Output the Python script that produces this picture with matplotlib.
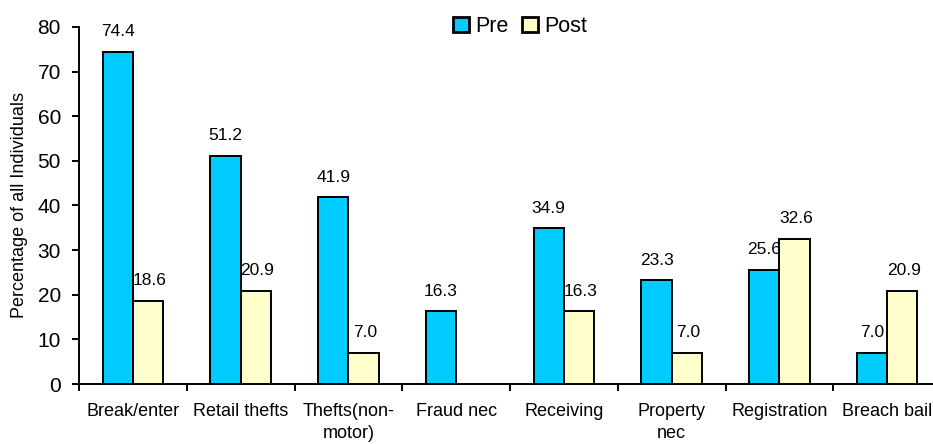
import matplotlib
matplotlib.use("Agg")
import matplotlib.pyplot as plt
from matplotlib import font_manager
import numpy as np

categories = ["Break/enter", "Retail thefts", "Thefts(non-\nmotor)", "Fraud nec",
              "Receiving", "Property\nnec", "Registration", "Breach bail"]
pre = [74.4, 51.2, 41.9, 16.3, 34.9, 23.3, 25.6, 7.0]
post = [18.6, 20.9, 7.0, np.nan, 16.3, 7.0, 32.6, 20.9]
yticks = [0, 10, 20, 30, 40, 50, 60, 70, 80]

plt.rcParams['font.family'] = ['Liberation Sans', 'DejaVu Sans']

names = {f.name for f in font_manager.fontManager.ttflist}
if 'Liberation Sans Narrow' in names:
    leg_family, leg_size = ['Liberation Sans Narrow', 'Liberation Sans'], 17.5
else:
    leg_family, leg_size = ['Liberation Sans', 'DejaVu Sans'], 15.5

fig = plt.figure(figsize=(9.33, 4.44), dpi=100)
ax = fig.add_axes([79/933, 60/444, (941-79)/933, 357/444])

x = np.arange(len(categories))
w = 0.28
ax.bar(x - w/2, pre, w, color='#00CCFF', edgecolor='black', linewidth=1.4, label='Pre', zorder=3)
ax.bar(x + w/2, post, w, color='#FFFFCC', edgecolor='black', linewidth=1.4, label='Post', zorder=3)

for xi, v in zip(x, pre):
    ax.annotate(f"{v:.1f}", (xi - w/2, v), xytext=(0, 9), textcoords='offset points',
                ha='center', va='bottom', fontsize=12.5)
for xi, v in zip(x, post):
    if not np.isnan(v):
        ax.annotate(f"{v:.1f}", (xi + w/2, v), xytext=(1, 9), textcoords='offset points',
                    ha='center', va='bottom', fontsize=12.5)

ax.set_xlim(-0.5, len(categories) - 0.5)
ax.set_ylim(0, 80)
ax.set_yticks(yticks)
ax.tick_params(axis='y', labelsize=15, length=5, width=1.4, direction='out', pad=8)

ax.set_xticks(np.arange(len(categories)) - 0.5)
ax.set_xticklabels([])
ax.tick_params(axis='x', which='major', length=5, width=1.4, direction='out')
ax.set_xticks(x, minor=True)
ax.set_xticklabels(categories, minor=True, fontsize=13)
ax.tick_params(axis='x', which='minor', length=0, pad=14)
for lbl in ax.get_xticklabels(minor=True):
    lbl.set_linespacing(1.35)

for s in ['top', 'right']:
    ax.spines[s].set_visible(False)
ax.spines['left'].set_linewidth(1.4)
ax.spines['bottom'].set_linewidth(1.4)

fig.text(20/933, 1 - 205/444, "Percentage of all Individuals", rotation=90,
         ha='center', va='center', fontsize=13)

leg = ax.legend(loc='center', bbox_to_anchor=(520/933, 1 - 26.5/444), bbox_transform=fig.transFigure,
                ncol=2, frameon=False, handlelength=0.75, handleheight=0.75,
                handletextpad=0.3, columnspacing=0.6, borderpad=0,
                prop={'family': leg_family, 'size': leg_size})
for h in leg.legend_handles:
    h.set_linewidth(2.0)

fig.savefig("out.png", dpi=100)
